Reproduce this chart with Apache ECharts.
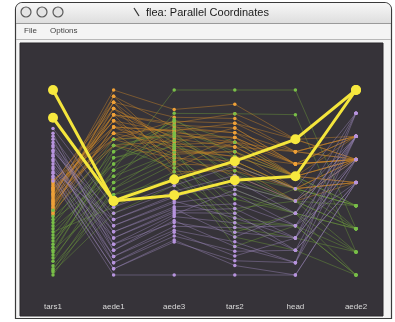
<!DOCTYPE html>
<html>
<head>
<meta charset="utf-8">
<script src="https://cdn.jsdelivr.net/npm/echarts@6/dist/echarts.min.js"></script>
<style>
  html, body { margin: 0; padding: 0; background: #ffffff; }
  #chart { width: 395px; height: 322px; }
</style>
</head>
<body>
<div id="chart"></div>
<script>
// Flea beetle measurements, one row per beetle:
// [tars1, aede1, aede3, tars2, head, aede2]
const dims = ['tars1', 'aede1', 'aede3', 'tars2', 'head', 'aede2'];
const dimMin = [122, 116, 55, 107, 43, 8];
const dimMax = [242, 146, 150, 146, 58, 16];

const heptapotamica = [
  [131, 133, 150, 146, 58, 10],
  [125, 131, 138, 141, 56, 9],
  [122, 130, 120, 115, 45, 8],
  [128, 129, 112, 113, 47, 8],
  [135, 136, 132, 130, 50, 10],
  [140, 137, 128, 127, 49, 11],
  [144, 135, 124, 125, 48, 10],
  [148, 134, 130, 133, 51, 11],
  [152, 132, 118, 121, 49, 9],
  [156, 138, 126, 128, 50, 11],
  [160, 134, 135, 132, 51, 10],
  [164, 137, 110, 124, 48, 9],
  [126, 128, 108, 119, 47, 8],
  [133, 131, 116, 123, 48, 10],
  [138, 129, 104, 118, 47, 9],
  [142, 133, 122, 126, 49, 10],
  [146, 130, 114, 120, 50, 11],
  [150, 127, 106, 117, 46, 9],
  [154, 136, 134, 135, 51, 11],
  [158, 132, 127, 129, 49, 10],
  [124, 126, 101, 116, 48, 8],
  [137, 135, 121, 131, 50, 11]
];

const heikertingeri = [
  [172, 146, 140, 143, 54, 13],
  [168, 144, 136, 140, 53, 14],
  [175, 142, 132, 138, 52, 13],
  [180, 141, 128, 136, 52, 13],
  [165, 143, 125, 134, 51, 12],
  [178, 140, 122, 135, 53, 14],
  [170, 139, 130, 137, 52, 13],
  [162, 145, 118, 133, 50, 13],
  [184, 138, 134, 139, 54, 14],
  [174, 137, 115, 131, 50, 12],
  [167, 142, 126, 136, 51, 13],
  [181, 144, 120, 132, 52, 13],
  [176, 141, 112, 130, 49, 12],
  [164, 140, 129, 134, 53, 14],
  [171, 143, 123, 138, 52, 13],
  [179, 139, 108, 129, 50, 12],
  [166, 142, 133, 141, 54, 13],
  [183, 140, 117, 133, 51, 13],
  [169, 138, 127, 135, 52, 14],
  [173, 145, 131, 137, 53, 13],
  [177, 141, 119, 132, 51, 12],
  [163, 137, 124, 130, 50, 13],
  [182, 143, 113, 136, 52, 14],
  [168, 139, 121, 134, 51, 13],
  [174, 142, 106, 131, 50, 12],
  [161, 140, 129, 139, 53, 13],
  [178, 138, 116, 128, 49, 13],
  [170, 144, 110, 135, 51, 14]
];

const concinna = [
  [217, 127, 101, 130, 50, 15],
  [212, 125, 95, 127, 48, 14],
  [208, 124, 92, 124, 47, 14],
  [205, 122, 88, 121, 46, 15],
  [202, 126, 98, 128, 49, 13],
  [199, 120, 85, 118, 45, 14],
  [196, 123, 90, 122, 47, 12],
  [194, 121, 82, 116, 46, 13],
  [191, 119, 78, 114, 44, 14],
  [188, 118, 75, 112, 45, 12],
  [186, 117, 72, 110, 44, 13],
  [183, 116, 55, 107, 43, 12],
  [210, 121, 86, 125, 48, 15],
  [203, 124, 93, 119, 46, 14],
  [197, 119, 80, 117, 47, 13],
  [192, 122, 87, 120, 45, 12],
  [189, 125, 96, 126, 49, 14],
  [214, 120, 83, 113, 44, 15],
  [200, 118, 77, 111, 46, 13],
  [185, 117, 73, 109, 43, 12],
  [206, 123, 89, 115, 48, 14]
];

// Two brushed beetles drawn on top
const brushed = [
  [242, 128, 96, 127, 51, 16],
  [224, 128, 104, 131, 54, 16]
];

const green  = { rows: heptapotamica, line: '#6a9a3a', dot: '#78be48', width: 0.9, size: 3.5, opacity: 0.5 };
const orange = { rows: heikertingeri, line: '#c98628', dot: '#eea038', width: 0.9, size: 3.5, opacity: 0.5 };
const purple = { rows: concinna,      line: '#9a84b8', dot: '#b794de', width: 0.9, size: 3.5, opacity: 0.5 };
const yellow = { rows: brushed,       line: '#f4e53c', dot: '#f7e83e', width: 3, size: 10, opacity: 1 };

const lineOrder = [green, orange, purple, yellow];
const dotOrder = [orange, green, purple, yellow];

// Plot frame inside the window
const plotLeft = 53, plotRight = 356, plotTop = 90, plotBottom = 275;
const W = 395, H = 322;
const axisX = i => plotLeft + i * (plotRight - plotLeft) / (dims.length - 1);

const chart = echarts.init(document.getElementById('chart'), null, { renderer: 'canvas' });

const series = [];
lineOrder.forEach((g, gi) => {
  series.push({
    type: 'parallel',
    parallelIndex: 0,
    silent: true,
    z: 2 + gi,
    lineStyle: { color: g.line, width: g.width, opacity: g.opacity },
    emphasis: { disabled: true },
    data: g.rows
  });
});
dotOrder.forEach((g, gi) => {
  dims.forEach((d, i) => {
    series.push({
      type: 'scatter',
      xAxisIndex: i,
      yAxisIndex: i,
      silent: true,
      z: 10 + gi,
      symbolSize: g.size,
      itemStyle: { color: g.dot, opacity: 1 },
      data: g.rows.map(r => [0, r[i]])
    });
  });
});

const font = '"Liberation Sans", "DejaVu Sans", Arial, sans-serif';
const noLabel = { show: false, formatter: () => '', fontSize: 1, color: 'rgba(0,0,0,0)' };

const option = {
  backgroundColor: '#ffffff',
  animation: false,
  graphic: {
    elements: [
      // window body
      { type: 'rect', z: 0, shape: { x: 15.5, y: 2.5, width: 376, height: 316, r: [7, 7, 0, 0] },
        style: { fill: '#f4f4f4', stroke: '#3a3a3a', lineWidth: 1.2 } },
      // title bar
      { type: 'rect', z: 0, shape: { x: 16, y: 3, width: 375, height: 20, r: [6, 6, 0, 0] },
        style: { fill: new echarts.graphic.LinearGradient(0, 0, 0, 1, [
          { offset: 0, color: '#f7f7f7' }, { offset: 1, color: '#dedede' }]) } },
      { type: 'line', z: 0, shape: { x1: 16, y1: 23.5, x2: 391, y2: 23.5 }, style: { stroke: '#9a9a9a', lineWidth: 1 } },
      // window buttons
      { type: 'circle', z: 0, shape: { cx: 26, cy: 12, r: 5 }, style: { fill: '#e4e4e4', stroke: '#5a5a5a', lineWidth: 1.2 } },
      { type: 'circle', z: 0, shape: { cx: 42, cy: 12, r: 5 }, style: { fill: '#e4e4e4', stroke: '#5a5a5a', lineWidth: 1.2 } },
      { type: 'circle', z: 0, shape: { cx: 58, cy: 12, r: 5 }, style: { fill: '#e4e4e4', stroke: '#5a5a5a', lineWidth: 1.2 } },
      // title
      { type: 'line', z: 0, shape: { x1: 134, y1: 8, x2: 139, y2: 16 }, style: { stroke: '#333', lineWidth: 1.2 } },
      { type: 'text', z: 0, style: { x: 146, y: 13, text: 'flea: Parallel Coordinates', fill: '#1a1a1a',
        font: '11px ' + font, textVerticalAlign: 'middle', verticalAlign: 'middle' } },
      // menu bar
      { type: 'text', z: 0, style: { x: 24, y: 31, text: 'File', fill: '#444', font: '8px ' + font,
        textVerticalAlign: 'middle', verticalAlign: 'middle' } },
      { type: 'text', z: 0, style: { x: 50, y: 31, text: 'Options', fill: '#444', font: '8px ' + font,
        textVerticalAlign: 'middle', verticalAlign: 'middle' } },
      { type: 'line', z: 0, shape: { x1: 16, y1: 39.5, x2: 391, y2: 39.5 }, style: { stroke: '#b8b8b8', lineWidth: 1 } },
      // dark plotting panel
      { type: 'rect', z: 0, shape: { x: 20, y: 43, width: 363, height: 273 },
        style: { fill: '#363339', stroke: '#2a282c', lineWidth: 1 } }
    ]
  },
  parallel: {
    left: plotLeft, right: W - plotRight, top: plotTop, bottom: H - plotBottom,
    parallelAxisDefault: { axisLabel: noLabel, axisTick: { show: false }, axisLine: { show: false } }
  },
  parallelAxis: dims.map((d, i) => ({
    dim: i,
    name: d,
    type: 'value',
    min: dimMin[i],
    max: dimMax[i],
    nameLocation: 'start',
    nameGap: 28,
    nameTextStyle: { color: '#dadada', fontSize: 8, fontFamily: font },
    axisLine: { show: false },
    axisTick: { show: false },
    axisLabel: noLabel,
    splitLine: { show: false }
  })),
  grid: dims.map((d, i) => ({
    left: axisX(i) - 5, width: 10, top: plotTop, bottom: H - plotBottom,
    outerBoundsMode: 'none', containLabel: false
  })),
  xAxis: dims.map((d, i) => ({
    gridIndex: i, type: 'value', min: -1, max: 1, show: false,
    axisLabel: noLabel, axisLine: { show: false }, axisTick: { show: false }, splitLine: { show: false }
  })),
  yAxis: dims.map((d, i) => ({
    gridIndex: i, type: 'value', min: dimMin[i], max: dimMax[i], show: false,
    axisLabel: noLabel, axisLine: { show: false }, axisTick: { show: false }, splitLine: { show: false }
  })),
  series: series
};

chart.setOption(option);
</script>
</body>
</html>
